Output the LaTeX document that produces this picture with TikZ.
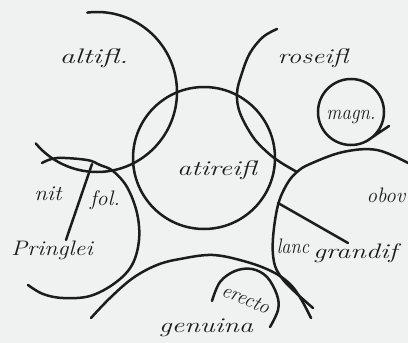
\documentclass[tikz,border=0pt]{standalone}
\usepackage{fontspec}
\begin{document}
\begin{tikzpicture}[x=1pt,y=-1pt,
  ink/.style={line width=2.5pt,draw={rgb,255:red,28;green,28;blue,28},line cap=round,line join=round},
  lbl/.style={font=\itshape\fontsize{21}{21}\selectfont,text={rgb,255:red,28;green,28;blue,28},anchor=base,inner sep=0pt}]
\definecolor{bg}{RGB}{240,241,241}
\fill[bg] (0,0) rectangle (408,343);
\useasboundingbox (0,0) rectangle (408,343);
% centres
\coordinate (cC) at (204,158);
\coordinate (cA) at (97,92);
\coordinate (cM) at (351,112);
\coordinate (tail) at (389,126);
% central circle
\draw[ink] (cC) circle[radius=71];
% altifl circle
\draw[ink] ([shift={(-97:80)}]cA) arc[start angle=-97,end angle=140,radius=80];
% magn circle with tail
\draw[ink] (tail) -- ([shift={(62:33)}]cM) arc[start angle=62,end angle=420,radius=33];
% roseifl arc
\draw[ink] plot[smooth,tension=0.6] coordinates {(277,29) (263,37) (250,53) (242,73) (237,93) (240,113) (253,137) (267,152) (280,162) (297,172)};
% obov / lanc circle
\draw[ink] plot[smooth,tension=0.6] coordinates {(410,164) (377,150) (343,152) (310,164) (297,172) (287,184) (278,205) (273,238) (274,262) (281,277) (294,291) (313,308)};
% lanc-grandif line
\coordinate (lg1) at (278,203);
\coordinate (lg2) at (348,243);
\draw[ink] (lg1) -- (lg2);
% Pringlei circle
\draw[ink] plot[smooth,tension=0.6] coordinates {(42,163) (57,158) (87,160) (100,165) (113,171) (127,187) (137,213) (139,240) (132,265) (115,283) (90,296) (63,298) (43,294) (28,285)};
% nit / fol. line
\coordinate (nf1) at (92,164);
\coordinate (nf2) at (68,234);
\coordinate (nf3) at (66,240);
\draw[ink] (nf1) -- (nf2) -- (nf3);
% genuina arc
\draw[ink] plot[smooth,tension=0.6] coordinates {(91,318) (110,298) (133,278) (157,265) (180,259) (213,255) (247,262) (273,272) (290,284) (301,299) (311,318)};
% erecto arc
\draw[ink] plot[smooth,tension=0.6] coordinates {(212,301) (220,282) (235,271) (252,269) (267,277) (277,295) (278,310) (270,327)};
% labels
\node[lbl,xscale=1.45] (altifl) at (94,63) {altifl.};
\node[lbl,xscale=1.3] (roseifl) at (313,63) {roseifl};
\node[lbl,xscale=0.9] (magn) at (351,119) {magn.};
\node[lbl,xscale=1.35] (atireifl) at (217,175) {atireifl};
\node[lbl,xscale=1.1] (nit) at (48,200) {nit};
\node[lbl,xscale=1.05] (fol) at (105,205) {fol.};
\node[lbl,xscale=1.15] (pringlei) at (52,255) {Pringlei};
\node[lbl,xscale=1.0] (obov) at (386,202) {obov};
\node[lbl,xscale=0.88] (lanc) at (293,253) {lanc};
\node[lbl,xscale=1.35] (grandif) at (355,258) {grandif};
\node[lbl,xscale=0.95,rotate=-22,anchor=center] (erecto) at (246,299) {erecto};
\node[lbl,xscale=1.35] (genuina) at (206,332) {genuina};
\end{tikzpicture}
\end{document}
